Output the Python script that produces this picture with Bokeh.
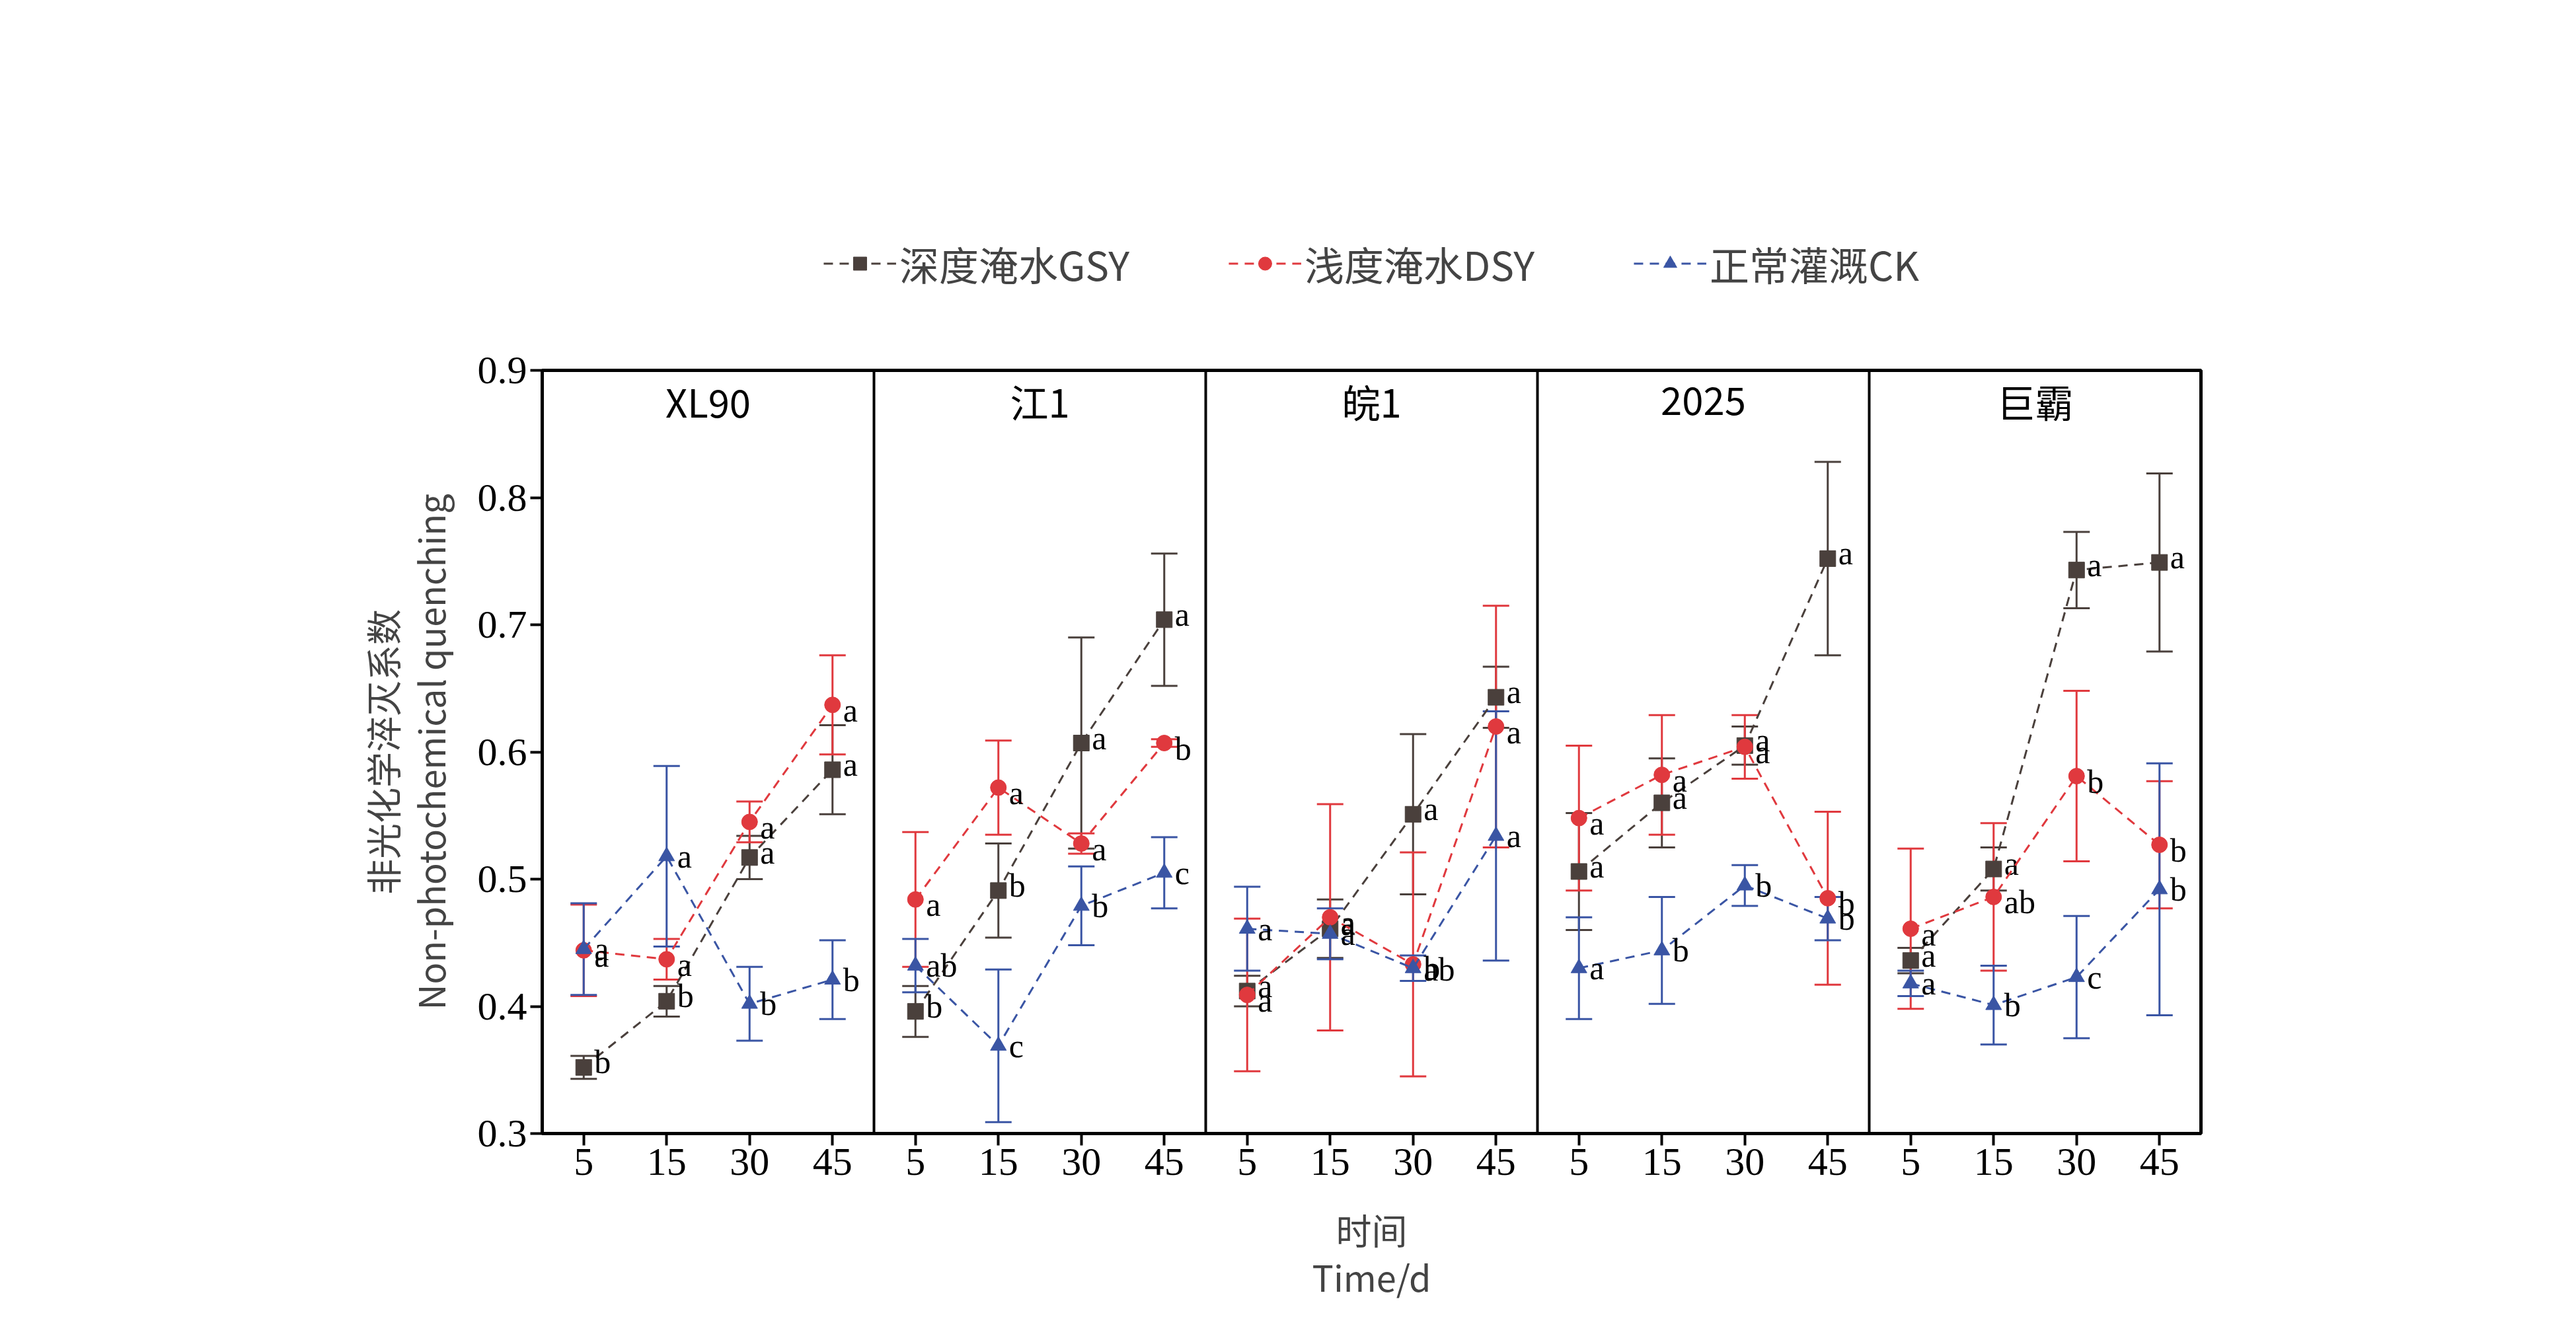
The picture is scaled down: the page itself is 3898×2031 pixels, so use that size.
from bokeh.plotting import figure
from bokeh.models import ColumnDataSource, Whisker, TeeHead, FixedTicker, Legend, LegendItem, Span, Range1d
from bokeh.core.properties import value
from bokeh.embed import file_html
from bokeh.resources import INLINE

cultivars = ["XL90", "江1", "皖1", "2025", "巨霸"]
times = ["5", "15", "30", "45"]
series_names = ["深度淹水GSY", "浅度淹水DSY", "正常灌溉CK"]

gsy = [[0.352,0.404,0.517,0.586],[0.396,0.491,0.607,0.704],[0.412,0.461,0.551,0.643],[0.506,0.560,0.605,0.752],[0.436,0.508,0.743,0.749]]
gsy_err = [[0.009,0.012,0.017,0.035],[0.02,0.037,0.083,0.052],[0.012,0.023,0.063,0.024],[0.046,0.035,0.015,0.076],[0.01,0.017,0.03,0.07]]
gsy_lab = [["b","b","a","a"],["b","b","a","a"],["a","a","a","a"],["a","a","a","a"],["a","a","a","a"]]
dsy = [[0.444,0.437,0.545,0.637],[0.484,0.572,0.528,0.607],[0.409,0.470,0.433,0.620],[0.548,0.582,0.604,0.485],[0.461,0.486,0.581,0.527]]
dsy_err = [[0.036,0.016,0.016,0.039],[0.053,0.037,0.008,0.003],[0.06,0.089,0.088,0.095],[0.057,0.047,0.025,0.068],[0.063,0.058,0.067,0.05]]
dsy_lab = [["a","a","a","a"],["a","a","a","b"],["a","a","ab","a"],["a","a","a","b"],["a","ab","b","b"]]
ck = [[0.445,0.518,0.402,0.421],[0.432,0.369,0.479,0.505],[0.461,0.457,0.430,0.534],[0.430,0.444,0.495,0.469],[0.418,0.401,0.423,0.492]]
ck_err = [[0.036,0.071,0.029,0.031],[0.021,0.06,0.031,0.028],[0.033,0.02,0.01,0.098],[0.04,0.042,0.016,0.017],[0.01,0.031,0.048,0.099]]
ck_lab = [["a","a","b","b"],["ab","c","b","c"],["a","a","b","a"],["a","b","b","b"],["a","b","c","b"]]

colors = ["#4a403c", "#e0393e", "#3a55a4"]
markers = ["square", "circle", "triangle"]
label_dy = [-8, 8, 0]
SERIF = "Liberation Serif"
CJK = "Noto Sans CJK SC"

p = figure(width=3882, height=2015, output_backend="svg", toolbar_location=None,
           x_range=Range1d(0, 20), y_range=Range1d(0.3, 0.9),
           min_border_left=820, min_border_right=552, min_border_top=20, min_border_bottom=300)
p.grid.visible = False
p.outline_line_color = "black"
p.outline_line_width = 5

ticks = [i*4 + j + 0.5 for i in range(5) for j in range(4)]
p.xaxis.ticker = FixedTicker(ticks=ticks)
p.xaxis.major_label_overrides = {t: times[k % 4] for k, t in enumerate(ticks)}
p.yaxis.ticker = FixedTicker(ticks=[0.3,0.4,0.5,0.6,0.7,0.8,0.9])
for ax in (p.xaxis, p.yaxis):
    ax.major_label_text_font = SERIF
    ax.major_label_text_font_size = "60px"
    ax.major_label_text_color = "black"
    ax.axis_line_width = 5
    ax.major_tick_line_width = 4
    ax.major_tick_out = 18
    ax.major_tick_in = 0
    ax.minor_tick_line_color = None
    ax.axis_label_text_font_style = "normal"
    ax.axis_label_text_font = CJK
    ax.axis_label_text_font_size = "54px"
    ax.axis_label_text_line_height = 0.9
p.xaxis.axis_label = "时间\nTime/d"
p.yaxis.axis_label = "非光化学淬灭系数\nNon-photochemical quenching"
p.xaxis.axis_label_standoff = 40
p.yaxis.axis_label_standoff = 30

for b in [4, 8, 12, 16]:
    p.add_layout(Span(location=b, dimension="height", line_color="black", line_width=4))

p.text(x=[i*4+2 for i in range(5)], y=[0.876]*5, text=cultivars, text_align="center",
       text_baseline="middle", text_font=value(CJK), text_font_size="58px", text_color="black")

items = []
for s, (vals, errs, labs) in enumerate([(gsy, gsy_err, gsy_lab), (dsy, dsy_err, dsy_lab), (ck, ck_err, ck_lab)]):
    rends = []
    for i in range(5):
        xs = [i*4 + j + 0.5 for j in range(4)]
        ys = vals[i]
        src = ColumnDataSource(dict(x=xs, y=ys, up=[y+e for y, e in zip(ys, errs[i])],
                                    lo=[y-e for y, e in zip(ys, errs[i])], lab=labs[i]))
        w = Whisker(source=src, base="x", upper="up", lower="lo", line_color=colors[s], line_width=3,
                    upper_head=TeeHead(size=40, line_color=colors[s], line_width=3),
                    lower_head=TeeHead(size=40, line_color=colors[s], line_width=3))
        p.add_layout(w)
        l = p.line("x", "y", source=src, line_color=colors[s], line_dash="14 10", line_width=3)
        m = p.scatter("x", "y", source=src, marker=markers[s], size=24, fill_color=colors[s], line_color=colors[s])
        p.text("x", "y", text="lab", source=src, x_offset=16, y_offset=label_dy[s], text_baseline="middle",
               text_font=value(SERIF), text_font_size="50px", text_color="black")
        if i == 0:
            rends = [l, m]
    items.append(LegendItem(label=series_names[s], renderers=rends))

leg = Legend(items=items, orientation="horizontal", location="center", border_line_color=None,
             label_text_font=CJK, label_text_font_size="60px", glyph_width=110, glyph_height=50,
             spacing=150, padding=10, margin=30)
p.add_layout(leg, "above")

open("out.html", "w").write(file_html(p, INLINE))
